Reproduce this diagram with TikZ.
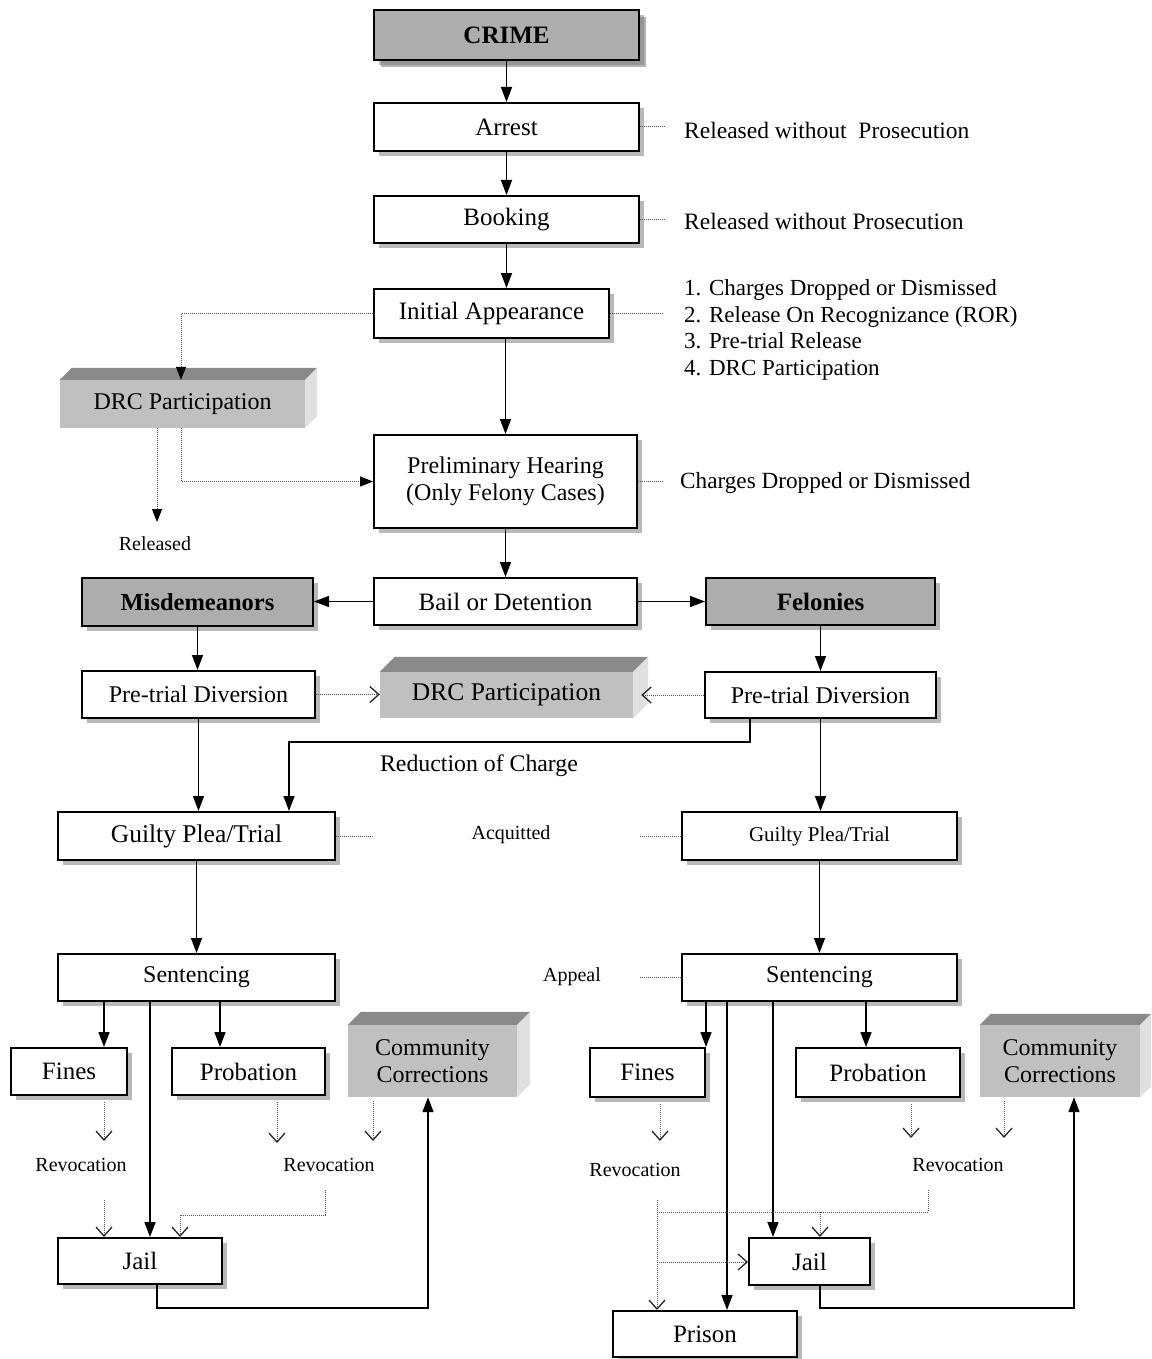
\documentclass[tikz,border=0pt]{standalone}
\usepackage{fontspec}
\setmainfont{Liberation Serif}
\usetikzlibrary{arrows.meta,shadows,calc}
\definecolor{boxgray}{HTML}{ADADAD}
\definecolor{frontgray}{HTML}{C0C0C0}
\definecolor{topgray}{HTML}{8A8A8A}
\definecolor{sidegray}{HTML}{E0E0E0}
\definecolor{dotgray}{HTML}{555555}
\newcommand\fsz[2]{\fontsize{#1}{#2}\selectfont}
\begin{document}
\begin{tikzpicture}[x=1pt,y=-1pt,
  box/.style={draw=black, line width=2pt, fill=white, inner sep=0pt, align=center,
    drop shadow={shadow xshift=5pt,shadow yshift=-5pt,opacity=0.55}, font=\fsz{25}{27}},
  gbox/.style={box, fill=boxgray, font=\bfseries\fsz{25}{27}},
  cube/.style={fill=frontgray, inner sep=0pt, align=center, font=\fsz{24}{27}},
  lbl/.style={inner sep=0pt, font=\fsz{23.5}{27}},
  slbl/.style={inner sep=0pt, font=\fsz{20}{24}},
  arr/.style={line width=1.5pt, -{Triangle[length=15pt,width=11pt]}},
  dotl/.style={densely dotted, line width=1pt, draw=dotgray},
  vdot/.style={dotl, -{Straight Barb[length=9pt,width=16pt,line width=1.3pt,color=black!85]}},
  fdot/.style={dotl, -{Triangle[length=13pt,width=10pt,color=black]}},
]
\useasboundingbox (0,0) rectangle (1151,1359);
\fill[white] (0,0) rectangle (1151,1359);

% main column
\node[gbox, minimum width=265pt, minimum height=50pt, drop shadow={shadow xshift=7pt,shadow yshift=-7pt,opacity=0.6}] (crime) at (506.5,35) {CRIME};
\node[box, minimum width=265pt, minimum height=48pt] (arrest) at (506.5,127) {Arrest};
\node[box, minimum width=265pt, minimum height=47pt] (booking) at (506.5,219.5) {Booking};
\node[box, minimum width=235pt, minimum height=49pt] (initial) at (491.5,313.5) {Initial Appearance};
\node[box, minimum width=263pt, minimum height=93pt, font=\fsz{24}{27}] (prelim) at (505.5,481.5) {Preliminary Hearing\\(Only Felony Cases)};
\node[box, minimum width=263pt, minimum height=47pt] (bail) at (505.5,601.5) {Bail or Detention};
\node[gbox, minimum width=231pt, minimum height=48pt, font=\bfseries\fsz{24.5}{27}] (misd) at (197.5,602) {Misdemeanors};
\node[gbox, minimum width=229pt, minimum height=47pt] (fel) at (820.5,601.5) {Felonies};
\node[box, minimum width=233pt, minimum height=47pt, font=\fsz{24}{27}] (ptdL) at (198.5,694.5) {Pre-trial Diversion};
\node[box, minimum width=231pt, minimum height=46pt, font=\fsz{24}{27}] (ptdR) at (820.5,695) {Pre-trial Diversion};
\node[box, minimum width=277pt, minimum height=48pt, font=\fsz{25.5}{27}] (gptL) at (196.5,836) {Guilty Plea/Trial};
\node[box, minimum width=275pt, minimum height=48pt, font=\fsz{21}{24}] (gptR) at (819.5,836) {Guilty Plea/Trial};
\node[box, minimum width=277pt, minimum height=47pt, font=\fsz{24}{27}] (sentL) at (196.5,977.5) {Sentencing};
\node[box, minimum width=275pt, minimum height=47pt, font=\fsz{24}{27}] (sentR) at (819.5,977.5) {Sentencing};
\node[box, minimum width=116pt, minimum height=47pt] (finesL) at (69,1071.5) {Fines};
\node[box, minimum width=153pt, minimum height=47pt] (probL) at (248.5,1071.5) {Probation};
\node[box, minimum width=164pt, minimum height=46pt] (jailL) at (140,1261) {Jail};
\node[box, minimum width=115pt, minimum height=49pt] (finesR) at (647.5,1072.5) {Fines};
\node[box, minimum width=164pt, minimum height=49pt] (probR) at (878,1072.5) {Probation};
\node[box, minimum width=121pt, minimum height=47pt] (jailR) at (809.5,1261.5) {Jail};
\node[box, minimum width=184pt, minimum height=46pt] (prison) at (705,1334) {Prison};

% 3D boxes
\node[cube, minimum width=245pt, minimum height=48pt] (drcL) at (182.5,404) {DRC Participation};
\node[cube, minimum width=253pt, minimum height=46pt, font=\fsz{25.5}{27}] (drcM) at (506.5,695) {DRC Participation};
\node[cube, minimum width=169pt, minimum height=72pt] (ccL) at (432.5,1061) {Community\\Corrections};
\node[cube, minimum width=160pt, minimum height=72pt] (ccR) at (1060,1061) {Community\\Corrections};
\foreach \n/\d in {drcL/12, drcM/15, ccL/13, ccR/11}{
  \fill[topgray] (\n.north west) -- ++(\d,-\d) -- ($(\n.north east)+(\d,-\d)$) -- (\n.north east) -- cycle;
  \fill[sidegray] (\n.north east) -- ++(\d,-\d) -- ($(\n.south east)+(\d,-\d)$) -- (\n.south east) -- cycle;
}

% side labels
\node[lbl, anchor=west] (rel1) at (684,130) {Released without\ \ Prosecution};
\node[lbl, anchor=west] (rel2) at (684,221) {Released without Prosecution};
\node[lbl, anchor=west, align=left, font=\fsz{23}{26.8}] (opts) at (684,330) {1. Charges Dropped or Dismissed\\2. Release On Recognizance (ROR)\\3. Pre-trial Release\\4. DRC Participation};
\node[lbl, anchor=west, font=\fsz{23.2}{27}] (cdd) at (680,483) {Charges Dropped or Dismissed};
\node[slbl] (rel) at (155,544) {Released};
\node[lbl, font=\fsz{23.8}{27}] (red) at (479,766) {Reduction of Charge};
\node[slbl] (acq) at (511,835) {Acquitted};
\node[slbl] (app) at (572,977) {Appeal};
\node[slbl] (revL1) at (81,1165) {Revocation};
\node[slbl] (revL2) at (329,1165) {Revocation};
\node[slbl] (revR1) at (635,1170) {Revocation};
\node[slbl] (revR2) at (958,1165) {Revocation};

% side dotted stubs
\draw[dotl] (arrest.east) -- ++(26,0);
\draw[dotl] (booking.east) -- ++(26,0);
\draw[dotl] (initial.east) -- ++(54,0);
\draw[dotl] (prelim.east) -- ++(26,0);
\draw[dotl] (gptL.east) -- ++(37,0);
\draw[dotl] (gptR.west) -- ++(-42,0);
\draw[dotl] (sentR.west) -- ++(-42,0);

% main flow
\draw[arr] (crime) -- (arrest);
\draw[arr] (arrest) -- (booking);
\draw[arr] (booking.south) -- (booking.south |- initial.north);
\draw[arr] (initial.south -| prelim.north) -- (prelim.north);
\draw[arr] (prelim) -- (bail);
\draw[arr] (bail.west) -- (bail.west -| misd.east);
\draw[arr] (bail.east) -- (bail.east -| fel.west);
\draw[arr] (misd.south) -- (misd.south |- ptdL.north);
\draw[arr] (fel.south) -- (fel.south |- ptdR.north);
\draw[vdot] (ptdL.east) -- (ptdL.east -| drcM.west);
\draw[vdot] (ptdR.west) -- ($(drcM.east)+(8,0)$);
\draw[arr] (ptdL.south) -- (ptdL.south |- gptL.north);
\draw[arr] (ptdR.south -| 750,0) |- (289,742) -- (gptL.north -| 289,0);
\draw[arr] (ptdR.south) -- (ptdR.south |- gptR.north);
\draw[arr] (gptL.south) -- (sentL.north);
\draw[arr] (gptR.south) -- (sentR.north);

% DRC left
\draw[fdot] (initial.west) -| (drcL.north -| 181,0);
\draw[fdot] (drcL.south -| 181,0) |- (prelim.west);
\draw[fdot] (drcL.south -| 157,0) -- (157,522);

% sentencing left
\draw[arr] (sentL.south -| 104,0) -- (finesL.north -| 104,0);
\draw[arr] (sentL.south -| 220,0) -- (probL.north -| 220,0);
\draw[arr] (sentL.south -| 150,0) -- (jailL.north -| 150,0);
\draw[vdot] (finesL.south -| 104,0) ++(0,6) -- (104,1141);
\draw[vdot] (probL.south -| 277,0) ++(0,6) -- (277,1143);
\draw[vdot] (ccL.south -| 373,0) ++(0,4) -- (373,1141);
\draw[vdot] (104,1200) -- (jailL.north -| 104,0);
\draw[vdot] (325,1190) -- (325,1215) -| (jailL.north -| 180,0);
\draw[arr] (jailL.south -| 157,0) -- (157,1308) -| (ccL.south -| 428,0);

% sentencing right
\draw[arr] (sentR.south -| finesR.north east) -- (finesR.north east);
\draw[arr] (sentR.south -| 727,0) -- (prison.north -| 727,0);
\draw[arr] (sentR.south -| 773,0) -- (jailR.north -| 773,0);
\draw[arr] (sentR.south -| 866,0) -- (probR.north -| 866,0);
\draw[vdot] (finesR.south -| 660,0) ++(0,6) -- (660,1141);
\draw[vdot] (probR.south -| 911,0) ++(0,6) -- (911,1138);
\draw[vdot] (ccR.south -| 1004,0) ++(0,4) -- (1004,1138);
\draw[dotl] (928,1190) -- (928,1212) -- (657,1212);
\draw[vdot] (820,1212) -- (jailR.north -| 820,0);
\draw[vdot] (657,1200) -- (prison.north -| 657,0);
\draw[vdot] (657,1262) -- (jailR.west |- 0,1262);
\draw[arr] (jailR.south -| 820,0) -- (820,1308) -| (ccR.south -| 1074,0);
\end{tikzpicture}
\end{document}
